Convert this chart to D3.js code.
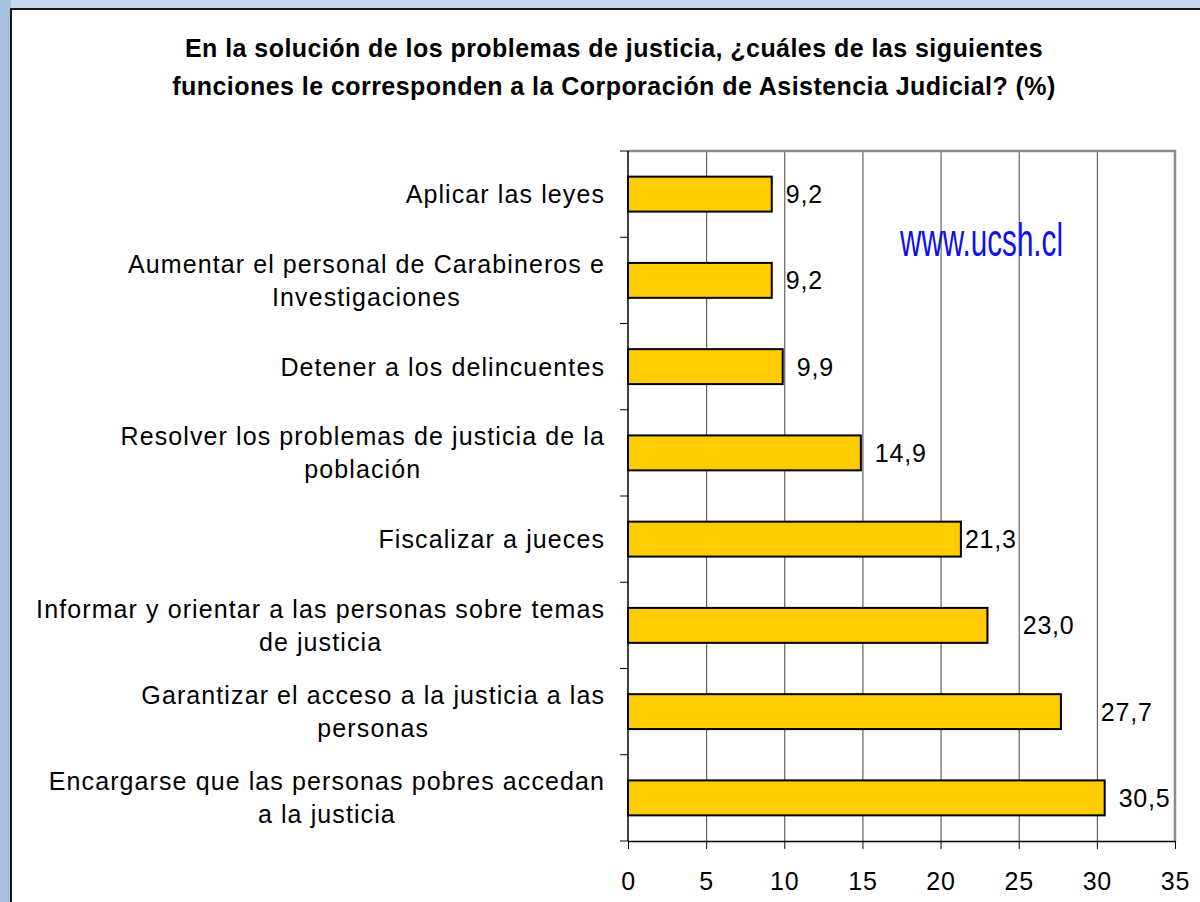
<!DOCTYPE html>
<html>
<head>
<meta charset="utf-8">
<script src="https://cdn.jsdelivr.net/npm/d3@7"></script>
<style>
  body { margin: 0; background: #c6d8ee; }
  text { font-family: "Liberation Sans", Arial, sans-serif; }
</style>
</head>
<body>
<div id="vis"></div>
<script>
// data
const categories = [
  'Aplicar las leyes',
  'Aumentar el personal de Carabineros e\nInvestigaciones',
  'Detener a los delincuentes',
  'Resolver los problemas de justicia de la\npoblación',
  'Fiscalizar a jueces',
  'Informar y orientar a las personas sobre temas\nde justicia',
  'Garantizar el acceso a la justicia a las\npersonas',
  'Encargarse que las personas pobres accedan\na la justicia'
];
const values = [9.2, 9.2, 9.9, 14.9, 21.3, 23.0, 27.7, 30.5];
const xTicks = [0, 5, 10, 15, 20, 25, 30, 35];
const titleLines = [
  'En la solución de los problemas de justicia, ¿cuáles de las siguientes',
  'funciones le corresponden a la Corporación de Asistencia Judicial? (%)'
];
const watermark = 'www.ucsh.cl';

let W = 1200, H = 902;
let plot = { left: 628, right: 1175, top: 151, bottom: 841 };

let svg = d3.select('#vis')
  .append('svg')
    .attr('width', W)
    .attr('height', H);

// slide background + white chart frame
svg.append('rect').attr('width', W).attr('height', H).attr('fill', '#c8d9ef');
svg.append('rect').attr('width', 11).attr('height', H).attr('fill', '#a7c0dd');
svg.append('rect')
  .attr('x', 11).attr('y', 9)
  .attr('width', W).attr('height', H)
  .attr('fill', '#fff')
  .attr('stroke', '#1a1a1a')
  .attr('stroke-width', 2);

// title
svg.append('g')
  .selectAll('text')
  .data(titleLines)
  .enter().append('text')
    .attr('x', 614)
    .attr('y', (d, i) => 57 + i * 38)
    .attr('text-anchor', 'middle')
    .style('font-size', '25px')
    .style('letter-spacing', '0.45px')
    .style('font-weight', 'bold')
    .text(d => d);

// scales
let xScale = d3.scaleLinear()
  .domain([0, 35])
  .range([plot.left, plot.right]);

let yScale = d3.scaleBand()
  .domain(categories)
  .range([plot.top, plot.bottom])
  .paddingInner(0.595)
  .paddingOuter(0.2975);

// gridlines
svg.append('g')
  .attr('transform', `translate(0, ${plot.bottom})`)
  .call(d3.axisBottom(xScale).tickValues(xTicks.slice(1, -1)).tickSize(-(plot.bottom - plot.top)).tickFormat(''))
  .call(g => g.select('.domain').remove())
  .selectAll('line')
    .attr('stroke', '#444')
    .attr('stroke-width', 1);

// plot border top / right
svg.append('path')
  .attr('d', `M${plot.left},${plot.top}H${plot.right}V${plot.bottom}`)
  .attr('fill', 'none')
  .attr('stroke', '#8c8c8c')
  .attr('stroke-width', 2.5);

// x axis
let xAxis = svg.append('g')
  .attr('transform', `translate(0, ${plot.bottom})`)
  .call(d3.axisBottom(xScale).tickValues(xTicks).tickSize(8).tickPadding(23).tickSizeOuter(0));
xAxis.selectAll('line').attr('stroke', '#000');
xAxis.select('.domain').attr('stroke', '#000').attr('stroke-width', 1.5);
xAxis.selectAll('text')
  .style('font-size', '25px')
  .style('letter-spacing', '0.8px')
  .attr('fill', '#000');

// y axis line + ticks at category boundaries
let step = yScale.step();
svg.append('line')
  .attr('x1', plot.left).attr('x2', plot.left)
  .attr('y1', plot.top).attr('y2', plot.bottom)
  .attr('stroke', '#000').attr('stroke-width', 1.5);
svg.append('g')
  .selectAll('line')
  .data(d3.range(categories.length + 1))
  .enter().append('line')
    .attr('x1', plot.left - 8).attr('x2', plot.left)
    .attr('y1', d => plot.top + d * step)
    .attr('y2', d => plot.top + d * step)
    .attr('stroke', '#000');

// category labels (lines centered, block right aligned)
let labels = svg.append('g')
  .selectAll('g')
  .data(categories)
  .enter().append('g');

labels.each(function(d) {
  let g = d3.select(this);
  let lines = d.split('\n');
  let cy = yScale(d) + yScale.bandwidth() / 2;
  let lh = 33;
  let texts = g.selectAll('text')
    .data(lines)
    .enter().append('text')
      .attr('y', (l, i) => cy + 9 - (lines.length - 1) * lh / 2 + i * lh)
      .attr('text-anchor', 'middle')
      .style('font-size', '25px')
      .style('letter-spacing', '1.1px')
      .text(l => l);
  let maxW = d3.max(texts.nodes(), n => n.getComputedTextLength());
  texts.attr('x', 605 - maxW / 2);
});

// bars
svg.append('g')
  .selectAll('rect')
  .data(values)
  .enter().append('rect')
    .attr('x', xScale(0))
    .attr('y', (d, i) => yScale(categories[i]))
    .attr('width', d => xScale(d) - xScale(0))
    .attr('height', yScale.bandwidth())
    .attr('fill', '#ffcc00')
    .attr('stroke', '#000')
    .attr('stroke-width', 2);

// value labels - nudged so they don't sit on a gridline
let fmt = d => d3.format('.1f')(d).replace('.', ',');
let grid = xTicks.map(t => xScale(t));
let crosses = (x0, w) => grid.some(gx => gx > x0 - 1 && gx < x0 + w);
svg.append('g')
  .selectAll('text')
  .data(values)
  .enter().append('text')
    .attr('y', (d, i) => yScale(categories[i]) + yScale.bandwidth() / 2 + 9)
    .style('font-size', '25px')
    .style('letter-spacing', '0.8px')
    .text(fmt)
    .attr('x', function(d) {
      let w = this.getComputedTextLength() - 1;
      let x0 = xScale(d) + 14;
      if (!crosses(x0, w)) return x0;
      if (!crosses(xScale(d) + 4, w)) return xScale(d) + 4;
      let next = grid.find(gx => gx > x0 - 1);
      return next + 4;
    });

// watermark
svg.append('text')
  .attr('x', 900)
  .attr('y', 256)
  .attr('textLength', 163)
  .attr('lengthAdjust', 'spacingAndGlyphs')
  .attr('fill', '#1010f0')
  .style('font-size', '46px')
  .text(watermark);
</script>
</body>
</html>
